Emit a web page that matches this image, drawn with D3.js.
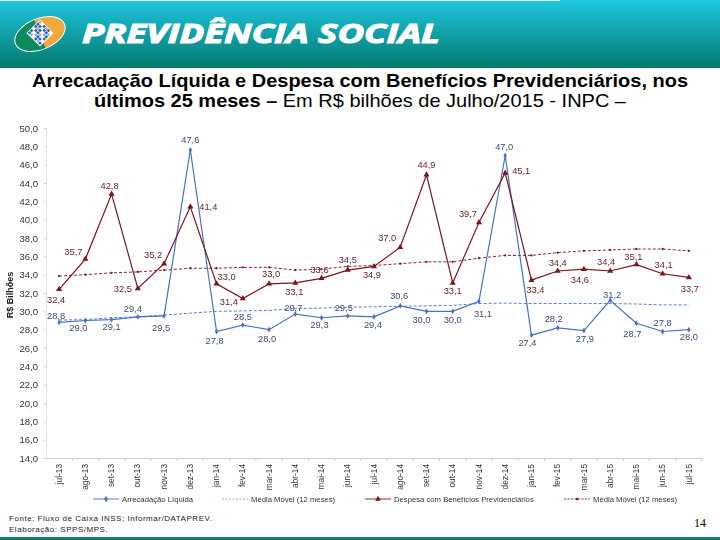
<!DOCTYPE html>
<html>
<head>
<meta charset="utf-8">
<script src="https://cdn.jsdelivr.net/npm/d3@7"></script>
<style>
  html, body { margin: 0; padding: 0; background: #fff; }
  svg { display: block; }
  text { font-family: "Liberation Sans", Arial, sans-serif; }
</style>
</head>
<body>
<div id="chart"></div>
<script>
const months = ["jul-13","ago-13","set-13","out-13","nov-13","dez-13","jan-14","fev-14","mar-14","abr-14","mai-14","jun-14",
  "jul-14","ago-14","set-14","out-14","nov-14","dez-14","jan-15","fev-15","mar-15","abr-15","mai-15","jun-15","jul-15"];

const arrecadacao = [28.8,29.0,29.1,29.4,29.5,47.6,27.8,28.5,28.0,29.7,29.3,29.5,29.4,30.6,30.0,30.0,31.1,47.0,27.4,28.2,27.9,31.2,28.7,27.8,28.0];
const despesa = [32.4,35.7,42.8,32.5,35.2,41.4,33.0,31.4,33.0,33.1,33.6,34.5,34.9,37.0,44.9,33.1,39.7,45.1,33.4,34.4,34.6,34.4,35.1,34.1,33.7];
const mediaArrecadacao = [29.05,29.1,29.3,29.4,29.6,29.8,30.0,30.05,30.1,30.3,30.35,30.45,30.5,30.55,30.6,30.65,30.85,30.9,30.85,30.85,30.85,30.85,30.8,30.7,30.7];
const mediaDespesa = [33.85,34.0,34.2,34.3,34.5,34.7,34.7,34.8,34.8,34.5,34.6,34.9,35.0,35.2,35.4,35.4,35.8,36.1,36.1,36.4,36.6,36.7,36.8,36.8,36.6];

// label offsets from the point, in px
const arrecDx = [-3,-7,0,-5,-3,0,-2,0,-2,-2,-2,-4,-1,-1,-5,0,4,-1,-4,-4,1,2,-4,0,0];
const arrecDy = [-7,7,7,-8,12,-10,9,-8,9,-6,7,-8,8,-10,8,8,12,-9,8,-9,8,-6,10,-9,7];
const despDx = [-3,-12,-2,-15,-11,18,10,-14,2,-1,-2,0,-2,-13,0,0,-11,16,4,0,-4,-4,-3,1,1];
const despDy = [10,-7,-8,0,-9,0,-7,3,-10,9,-9,-10,8,-9,-10,8,-9,-2,10,-8,11,-9,-8,-9,11];

const yTicks = d3.range(14, 51, 2);
const fmt = v => v.toFixed(1).replace(".", ",");

const blue = "#4472c4", darkBlue = "#3b4a80", red = "#7b1418", darkRed = "#6b1a1e";

const svg = d3.select("#chart").append("svg").attr("width", 720).attr("height", 540);
const defs = svg.append("defs");

const grad = defs.append("linearGradient").attr("id", "head").attr("x1", 0).attr("x2", 0).attr("y1", 0).attr("y2", 1);
grad.append("stop").attr("offset", "0%").attr("stop-color", "#20c8e0");
grad.append("stop").attr("offset", "45%").attr("stop-color", "#12a3ac");
grad.append("stop").attr("offset", "100%").attr("stop-color", "#047a6c");

defs.append("filter").attr("id", "soft").append("feGaussianBlur").attr("stdDeviation", 0.35);

// header band
svg.append("rect").attr("width", 720).attr("height", 68).attr("fill", "url(#head)");
svg.append("rect").attr("width", 560).attr("height", 1).attr("fill", "#e8f6f6");

// logo
const logo = svg.append("g").attr("transform", "translate(40,34) rotate(-22)");
logo.append("ellipse").attr("rx", 27).attr("ry", 16).attr("fill", "#fff");
logo.append("path").attr("d", "M0,-15 A26,15 0 0 1 0,15 Z").attr("fill", "#f0a83c");
logo.append("path").attr("d", "M0,-15 A26,15 0 0 0 0,15 Z").attr("fill", "#0f8a5c");
const mosaic = svg.append("g").attr("transform", "translate(40,33) rotate(45) scale(0.74)");
mosaic.append("rect").attr("x", -13).attr("y", -13).attr("width", 26).attr("height", 26).attr("fill", "#fff");
d3.range(6).forEach(i => d3.range(6).forEach(j => {
  if ((i * 3 + j * 5) % 4 === 3) return;
  mosaic.append("rect")
    .attr("x", -12 + i * 4).attr("y", -12 + j * 4)
    .attr("width", 3.4).attr("height", 3.4)
    .attr("fill", (i + j) % 3 === 0 ? "#8fb0dc" : "#2a5ea8");
}));

svg.append("text")
  .attr("x", 82).attr("y", 43)
  .attr("font-size", 27).attr("font-weight", 700).attr("font-style", "italic")
  .attr("textLength", 358).attr("lengthAdjust", "spacingAndGlyphs")
  .style("font-family", "'Open Sans', sans-serif")
  .attr("fill", "#fff").attr("stroke", "#fff").attr("stroke-width", 1.1)
  .text("PREVIDÊNCIA SOCIAL");

// title
svg.append("text").attr("x", 360).attr("y", 87).attr("text-anchor", "middle")
  .attr("font-size", 18.5).attr("font-weight", 700).attr("fill", "#000")
  .attr("textLength", 656).attr("lengthAdjust", "spacingAndGlyphs")
  .text("Arrecadação Líquida e Despesa com Benefícios Previdenciários, nos");
const t2 = svg.append("text").attr("x", 360).attr("y", 107).attr("text-anchor", "middle")
  .attr("font-size", 18.5).attr("fill", "#000")
  .attr("textLength", 532).attr("lengthAdjust", "spacingAndGlyphs");
t2.append("tspan").attr("font-weight", 700).text("últimos 25 meses – ");
t2.append("tspan").text("Em R$ bilhões de Julho/2015 - INPC –");

// chart
const x = d3.scaleBand().domain(months).range([46, 702]);
const y = d3.scaleLinear().domain([14, 50]).range([458, 128]);
const chart = svg.append("g").attr("filter", "url(#soft)");

const yAxis = chart.append("g").attr("transform", "translate(46,0)")
  .call(d3.axisLeft(y).tickValues(yTicks).tickFormat(fmt).tickSize(2).tickPadding(6));
yAxis.select(".domain").attr("stroke", "#e2e2e2");
yAxis.selectAll(".tick line").attr("stroke", "#ccc");
yAxis.selectAll("text").attr("font-size", 9.5).attr("fill", "#333").attr("font-family", "'Liberation Sans', sans-serif");

const xAxis = chart.append("g").attr("transform", "translate(0,458)")
  .call(d3.axisBottom(x).tickSize(0));
xAxis.select(".domain").attr("stroke", "#ccc");
xAxis.selectAll("text")
  .attr("font-size", 8.3).attr("fill", "#333").attr("font-family", "'Liberation Sans', sans-serif")
  .attr("transform", "rotate(-90)")
  .attr("text-anchor", "end").attr("x", -6).attr("y", 0).attr("dy", "0.32em");
xAxis.selectAll(".edge").data(months).enter().append("line")
  .attr("x1", d => x(d) + x.bandwidth()).attr("x2", d => x(d) + x.bandwidth())
  .attr("y1", 0).attr("y2", 3).attr("stroke", "#ccc");

const center = d => x(d) + x.bandwidth() / 2;
const line = d3.line().x((d, i) => center(months[i])).y(d => y(d));

function drawSeries(values, color, width, dash) {
  chart.append("path").datum(values)
    .attr("fill", "none").attr("stroke", color).attr("stroke-width", width)
    .attr("stroke-dasharray", dash).attr("d", line);
}
drawSeries(mediaArrecadacao, blue, 0.9, "3,2");
drawSeries(mediaDespesa, red, 0.9, "3,2");
drawSeries(arrecadacao, blue, 1.2, null);
drawSeries(despesa, red, 1.2, null);

const tri = d3.symbol().type(d3.symbolTriangle).size(16);
const dia = d3.symbol().type(d3.symbolDiamond).size(10);

chart.append("g").selectAll("path").data(mediaDespesa).enter().append("path")
  .attr("d", d3.symbol().type(d3.symbolCircle).size(4))
  .attr("transform", (d, i) => `translate(${center(months[i])},${y(d)})`)
  .attr("fill", red);
chart.append("g").selectAll("path").data(arrecadacao).enter().append("path")
  .attr("d", dia)
  .attr("transform", (d, i) => `translate(${center(months[i])},${y(d)})`)
  .attr("fill", blue);
chart.append("g").selectAll("path").data(despesa).enter().append("path")
  .attr("d", tri)
  .attr("transform", (d, i) => `translate(${center(months[i])},${y(d)})`)
  .attr("fill", red);

function drawLabels(values, dx, dy, color) {
  chart.append("g").selectAll("text").data(values).enter().append("text")
    .attr("x", (d, i) => center(months[i]) + dx[i])
    .attr("y", (d, i) => y(d) + dy[i])
    .attr("dy", "0.35em")
    .attr("text-anchor", "middle")
    .attr("font-size", 9.3)
    .attr("fill", color)
    .text(fmt);
}
drawLabels(arrecadacao, arrecDx, arrecDy, darkBlue);
drawLabels(despesa, despDx, despDy, darkRed);

// y axis title
chart.append("text")
  .attr("transform", "translate(13,295) rotate(-90)")
  .attr("text-anchor", "middle")
  .attr("font-size", 9).attr("font-weight", 700).attr("fill", "#222")
  .text("R$ Bilhões");

// legend
const legendNames = ["Arrecadação Líquida", "Média Móvel (12 meses)", "Despesa com Benefícios Previdenciários", "Média Móvel (12 meses)"];
const legendLeft = [93, 222, 365, 564];
const legendColor = [blue, "#8aa4d8", red, red];
const legendDash = [null, "2,1.5", null, "2,1.5"];
const legendMark = [d3.symbolDiamond, null, d3.symbolTriangle, d3.symbolCircle];
const legendSize = [12, 0, 14, 5];

const legend = chart.append("g");
legendNames.forEach((name, i) => {
  const g = legend.append("g").attr("transform", `translate(${legendLeft[i]},499)`);
  g.append("line").attr("x1", 0).attr("x2", 26).attr("stroke", legendColor[i])
    .attr("stroke-width", 0.9).attr("stroke-dasharray", legendDash[i]);
  if (legendMark[i]) {
    g.append("path").attr("d", d3.symbol().type(legendMark[i]).size(legendSize[i]))
      .attr("transform", "translate(13,0)").attr("fill", legendColor[i]);
  }
  g.append("text").attr("x", 29).attr("dy", "0.35em")
    .attr("font-size", 7.7).attr("fill", "#333").text(name);
});

// footer
svg.append("text").attr("x", 9).attr("y", 521)
  .attr("font-size", 8).attr("letter-spacing", 0.53).attr("fill", "#222")
  .text("Fonte: Fluxo de Caixa INSS; Informar/DATAPREV.");
svg.append("text").attr("x", 9).attr("y", 532)
  .attr("font-size", 8).attr("letter-spacing", 0.53).attr("fill", "#222")
  .text("Elaboração: SPPS/MPS.");
svg.append("text").attr("x", 706).attr("y", 527).attr("text-anchor", "end")
  .attr("font-size", 12).style("font-family", "'Liberation Serif', serif").attr("fill", "#000")
  .text("14");
svg.append("rect").attr("y", 537).attr("width", 720).attr("height", 3).attr("fill", "#127c6e");
</script>
</body>
</html>
